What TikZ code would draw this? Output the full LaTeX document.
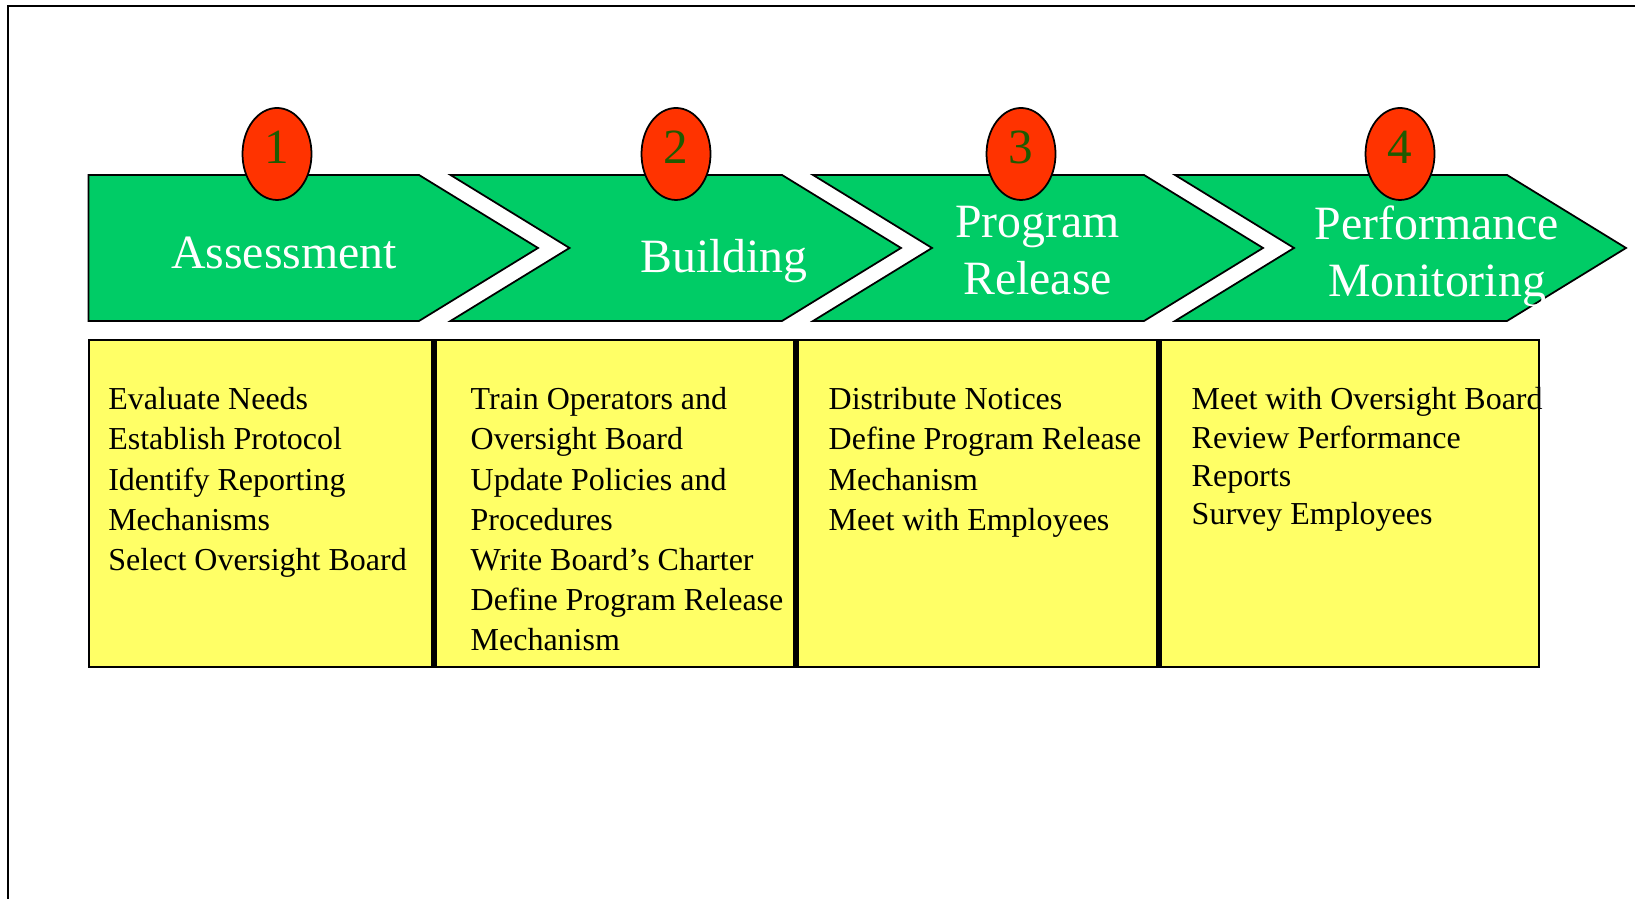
\documentclass[tikz,border=0pt]{standalone}
\usepackage{fontspec}
\setmainfont{Liberation Serif}
\usetikzlibrary{
positioning,
shapes.geometric
}
\definecolor{StepGreen}{HTML}{00CC66}
\definecolor{BadgeRed}{HTML}{FF3300}
\definecolor{BadgeText}{HTML}{1F5A00}
\definecolor{NoteYellow}{HTML}{FFFF66}

\begin{document}
\begin{tikzpicture}[x=1cm,y=1cm,
  chev/.style={fill=StepGreen, draw=black, line width=0.5pt},
  badge/.style={ellipse, fill=BadgeRed, draw=black, line width=0.5pt, minimum width=0.69cm, minimum height=0.92cm, inner sep=0pt, text depth=0.13cm, text=BadgeText, font=\fontsize{14}{16}\selectfont},
  phase/.style={text=white, align=center, inner sep=0pt, font=\fontsize{13.6}{16.2}\selectfont},
  notebox/.style={fill=NoteYellow, draw=black, line width=0.55pt, outer sep=0pt, inner sep=0pt, minimum height=3.27cm},
  notes/.style={align=left, inner sep=0pt, font=\fontsize{9.1}{11.4}\selectfont}]
        \useasboundingbox (0,0) rectangle (16.35,8.99);
        \draw[line width=0.6pt] (0.08,0) -- (0.08,8.93) -- (16.35,8.93);
        % arrow row
        \draw[chev] (0.886,7.24) -- (4.19,7.24) -- (5.38,6.51) -- (4.19,5.78) -- (0.886,5.78) -- cycle;
        \foreach \l/\c in {4.505/7.82, 8.13/11.44, 11.75/15.07}
          \draw[chev] (\l,7.24) -- (\c,7.24) -- (\c+1.19,6.51) -- (\c,5.78) -- (\l,5.78) -- (\l+1.19,6.51) -- cycle;
        \node[phase, anchor=base] (t1) at (2.84,6.30) {Assessment};
        \node[phase, anchor=base] (t2) at (7.24,6.26) {Building};
        \node[phase] (t3) at (10.375,6.48) {Program\\Release};
        \node[phase] (t4) at (14.37,6.43) {Performance\\Monitoring};
        \node[badge] (n1) at (2.77,7.45) {1};
        \node[badge] (n2) at (6.76,7.45) {2};
        \node[badge] (n3) at (10.21,7.45) {3};
        \node[badge] (n4) at (14.00,7.45) {4};
        % task boxes
        \node[notebox, minimum width=3.454cm, anchor=north west] (b1) at (0.886,5.59) {};
        \node[notebox, minimum width=3.62cm, right=0cm of b1] (b2) {};
        \node[notebox, minimum width=3.63cm, right=0cm of b2] (b3) {};
        \node[notebox, minimum width=3.80cm, right=0cm of b3] (b4) {};
        \draw[line width=1.5pt] (b1.north east) -- (b1.south east);
        \draw[line width=1.5pt] (b2.north east) -- (b2.south east);
        \draw[line width=1.5pt] (b3.north east) -- (b3.south east);
        \node[notes, below right=0.47cm and 0.19cm of b1.north west] (l1) {Evaluate Needs\\Establish Protocol\\Identify Reporting\\Mechanisms\\Select Oversight Board};
        \node[notes, below right=0.47cm and 0.36cm of b2.north west] (l2) {Train Operators and\\Oversight Board\\Update Policies and\\Procedures\\Write Board’s Charter\\Define Program Release\\Mechanism};
        \node[notes, below right=0.47cm and 0.32cm of b3.north west] (l3) {Distribute Notices\\Define Program Release\\Mechanism\\Meet with Employees};
        \node[notes, below right=0.47cm and 0.32cm of b4.north west, font=\fontsize{9.1}{10.9}\selectfont] (l4) {Meet with Oversight Board\\Review Performance\\Reports\\Survey Employees};
    \end{tikzpicture}
\end{document}
